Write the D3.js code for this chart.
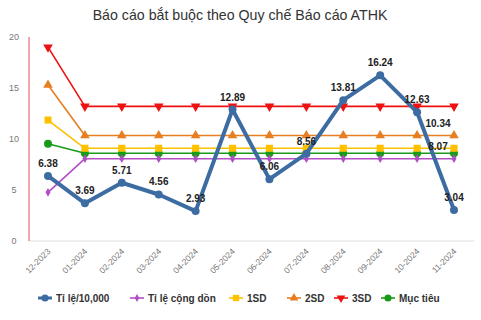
<!DOCTYPE html>
<html>
<head>
<meta charset="utf-8">
<script src="https://cdn.jsdelivr.net/npm/d3@7"></script>
<style>
  body { margin: 0; background: #fff; }
  text { font-family: "Liberation Sans", Arial, sans-serif; }
</style>
</head>
<body>
<div id="chart"></div>
<script>
var months = ["12-2023","01-2024","02-2024","03-2024","04-2024","05-2024","06-2024","07-2024","08-2024","09-2024","10-2024","11-2024"];
var rate = [6.38, 3.69, 5.71, 4.56, 2.93, 12.89, 6.06, 8.56, 13.81, 16.24, 12.63, 3.04];
var cumulative = [4.77, 8.07, 8.07, 8.07, 8.07, 8.07, 8.07, 8.07, 8.07, 8.07, 8.07, 8.07];
var sd1 = [11.86, 9.09, 9.09, 9.09, 9.09, 9.09, 9.09, 9.09, 9.09, 9.09, 9.09, 9.09];
var sd2 = [15.3, 10.34, 10.34, 10.34, 10.34, 10.34, 10.34, 10.34, 10.34, 10.34, 10.34, 10.34];
var sd3 = [19.0, 13.2, 13.2, 13.2, 13.2, 13.2, 13.2, 13.2, 13.2, 13.2, 13.2, 13.2];
var target = [9.54, 8.6, 8.6, 8.6, 8.6, 8.6, 8.6, 8.6, 8.6, 8.6, 8.6, 8.6];
var yTicks = [0, 5, 10, 15, 20];

var width = 481, height = 320;

var svg = d3.select("#chart").append("svg")
  .attr("width", width)
  .attr("height", height);

var x = d3.scalePoint().domain(months).range([48, 454]);
var y = d3.scaleLinear().domain([0, 20]).range([241, 37]);

// title
svg.append("text")
  .attr("x", 240).attr("y", 20)
  .attr("text-anchor", "middle")
  .attr("font-size", 14.2)
  .attr("fill", "#333")
  .text("Báo cáo bắt buộc theo Quy chế Báo cáo ATHK");

// y tick labels
svg.selectAll(".ytick")
  .data(yTicks)
  .enter().append("text")
  .attr("class", "ytick")
  .attr("x", 14).attr("y", function(d) { return y(d) + 3; })
  .attr("text-anchor", "middle")
  .attr("font-size", 9)
  .attr("fill", "#777")
  .text(function(d) { return d; });

// bottom axis line
svg.append("line")
  .attr("x1", 29).attr("x2", 474)
  .attr("y1", y(0)).attr("y2", y(0))
  .attr("stroke", "#ddd").attr("stroke-width", 1);

// left axis line (red)
svg.append("line")
  .attr("x1", 29).attr("x2", 29)
  .attr("y1", 37).attr("y2", y(0))
  .attr("stroke", "#e8505a").attr("stroke-width", 1);

// x tick labels, rotated
svg.selectAll(".xtick")
  .data(months)
  .enter().append("text")
  .attr("class", "xtick")
  .attr("text-anchor", "end")
  .attr("font-size", 8.5)
  .attr("fill", "#777")
  .attr("transform", function(d) { return "translate(" + (x(d) + 3) + "," + 252 + ")rotate(-45)"; })
  .text(function(d) { return d; });

var line = d3.line()
  .x(function(d, i) { return x(months[i]); })
  .y(function(d) { return y(d); });

var series = [
  {name: "Mục tiêu", values: target, color: "#1a9a1a", width: 1.6, shape: d3.symbolCircle, size: 50},
  {name: "Tỉ lệ cộng dồn", values: cumulative, color: "#b24fc4", width: 1.6, shape: d3.symbolDiamond, size: 22},
  {name: "1SD", values: sd1, color: "#ffc000", width: 1.6, shape: d3.symbolSquare, size: 50},
  {name: "2SD", values: sd2, color: "#e67e22", width: 1.6, shape: d3.symbolTriangle, size: 40},
  {name: "3SD", values: sd3, color: "#ee1111", width: 1.6, shape: d3.symbolTriangle, size: 40, down: true},
  {name: "Tỉ lệ/10,000", values: rate, color: "#3d6ca3", width: 4, shape: d3.symbolCircle, size: 50}
];

series.forEach(function(s) {
  svg.append("path")
    .datum(s.values)
    .attr("d", line)
    .attr("fill", "none")
    .attr("stroke", s.color)
    .attr("stroke-width", s.width)
    .attr("stroke-linejoin", "round");

  svg.selectAll(null)
    .data(s.values)
    .enter().append("path")
    .attr("d", d3.symbol().type(s.shape).size(s.size))
    .attr("fill", s.color)
    .attr("transform", function(d, i) {
      return "translate(" + x(months[i]) + "," + y(d) + ")" + (s.down ? "rotate(180)" : "");
    });
});

// data labels for the main series
svg.selectAll(".lbl")
  .data(rate)
  .enter().append("text")
  .attr("class", "lbl")
  .attr("x", function(d, i) { return x(months[i]); })
  .attr("y", function(d) { return y(d) - 9; })
  .attr("text-anchor", "middle")
  .attr("font-size", 10)
  .attr("font-weight", "bold")
  .attr("fill", "#222")
  .text(function(d) { return d.toFixed(2); });

// labels at the last point of 2SD and cumulative
var last = months.length - 1;
[{v: sd2[last]}, {v: cumulative[last]}].forEach(function(l) {
  svg.append("text")
    .attr("x", x(months[last]) - 16)
    .attr("y", y(l.v) - 9)
    .attr("text-anchor", "middle")
    .attr("font-size", 10)
    .attr("font-weight", "bold")
    .attr("fill", "#222")
    .text(l.v.toFixed(2));
});

// legend
var legendX = [38, 130, 229, 287, 334, 381];
var legendOrder = [5, 1, 2, 3, 4, 0];
legendOrder.forEach(function(si, k) {
  var s = series[si];
  var g = svg.append("g").attr("transform", "translate(" + legendX[k] + ",298)");
  g.append("line")
    .attr("x1", 0).attr("x2", 14)
    .attr("stroke", s.color)
    .attr("stroke-width", s.width === 4 ? 3 : 1.6);
  g.append("path")
    .attr("d", d3.symbol().type(s.shape).size(s.size * 0.8))
    .attr("fill", s.color)
    .attr("transform", "translate(7,0)" + (s.down ? "rotate(180)" : ""));
  g.append("text")
    .attr("x", 18).attr("y", 3.5)
    .attr("font-size", 10)
    .attr("font-weight", "bold")
    .attr("fill", "#333")
    .text(s.name);
});
</script>
</body>
</html>
